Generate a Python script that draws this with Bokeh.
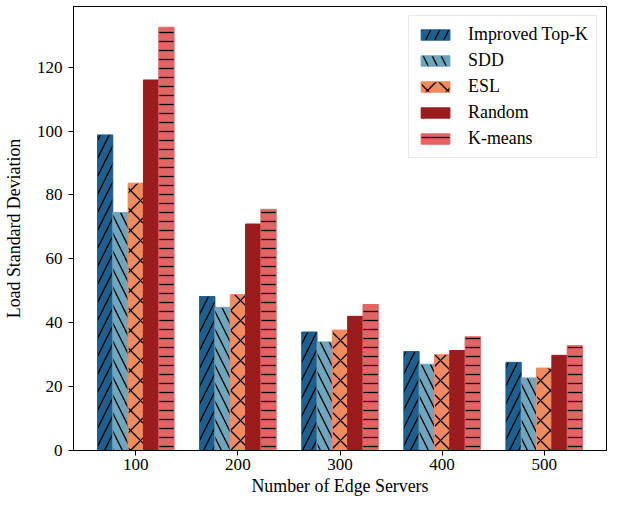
from bokeh.plotting import figure
from bokeh.models import ColumnDataSource, Range1d, FixedTicker, Legend, LegendItem
from bokeh.transform import dodge
from bokeh.embed import file_html
from bokeh.resources import INLINE

categories = ["100", "200", "300", "400", "500"]
series_names = ["Improved Top-K", "SDD", "ESL", "Random", "K-means"]
improved_topk = [98.8, 48.2, 37.1, 31.0, 27.6]
sdd = [74.5, 44.8, 34.0, 27.0, 22.7]
esl = [83.7, 48.8, 37.7, 30.0, 25.8]
random_ = [116.0, 70.9, 42.0, 31.3, 29.8]
kmeans = [132.5, 75.5, 45.7, 35.6, 32.8]
y_ticks = [0, 20, 40, 60, 80, 100, 120]

colors = ["#1f5f8e", "#6fa6bd", "#ee8b5f", "#9a1c1f", "#e26565"]
hatches = ["right_diagonal_line", "left_diagonal_line", "diagonal_cross", " ", "horizontal_line"]
hscales = [18, 18, 20, 10, 9]
offsets = [-0.3, -0.15, 0.0, 0.15, 0.3]
values = [improved_topk, sdd, esl, random_, kmeans]

FONT = "Liberation Serif"

data = {"x": list(range(len(categories)))}
for i, v in enumerate(values):
    data["s%d" % i] = v
src = ColumnDataSource(data)

p = figure(width=608, height=498, output_backend="svg", toolbar_location=None,
           x_range=Range1d(-0.61, 4.61), y_range=Range1d(0, 139),
           min_border_left=67, min_border_right=2, min_border_top=6, min_border_bottom=0)

items = []
for i in range(5):
    r = p.vbar(x=dodge("x", offsets[i]), top="s%d" % i, width=0.15, source=src,
               fill_color=colors[i], line_color=colors[i], line_width=1,
               hatch_pattern=hatches[i], hatch_color="black", hatch_weight=1.3,
               hatch_scale=hscales[i])
    items.append(LegendItem(label=series_names[i], renderers=[r]))

legend = Legend(items=items, location="top_right",
                label_text_font=FONT, label_text_font_size="13.4pt",
                label_text_color="black",
                border_line_color="#d4d4d4", border_line_width=1,
                glyph_width=36, glyph_height=13, spacing=5, padding=8,
                label_standoff=15, margin=9, label_height=18)
p.add_layout(legend)

p.xgrid.visible = False
p.ygrid.visible = False
p.outline_line_color = "black"
p.outline_line_width = 1

p.xaxis.ticker = FixedTicker(ticks=list(range(len(categories))))
p.xaxis.major_label_overrides = {i: c for i, c in enumerate(categories)}
p.yaxis.ticker = FixedTicker(ticks=y_ticks)
for ax in (p.xaxis[0], p.yaxis[0]):
    ax.major_label_text_font = FONT
    ax.major_label_text_font_size = "12.8pt"
    ax.major_label_text_color = "black"
    ax.axis_label_text_font = FONT
    ax.axis_label_text_font_size = "13.4pt"
    ax.axis_label_text_font_style = "normal"
    ax.axis_label_text_color = "black"
    ax.major_tick_in = 0
    ax.major_tick_out = 5
    ax.minor_tick_in = 0
    ax.minor_tick_out = 0
    ax.axis_line_color = "black"
    ax.major_tick_line_color = "black"
p.xaxis.axis_label = "Number of Edge Servers"
p.yaxis.axis_label = "Load Standard Deviation"
p.xaxis.major_label_standoff = 3
p.yaxis.major_label_standoff = 6
p.xaxis.axis_label_standoff = 3
p.yaxis.axis_label_standoff = 10

open("out.html", "w").write(file_html(p, INLINE))
